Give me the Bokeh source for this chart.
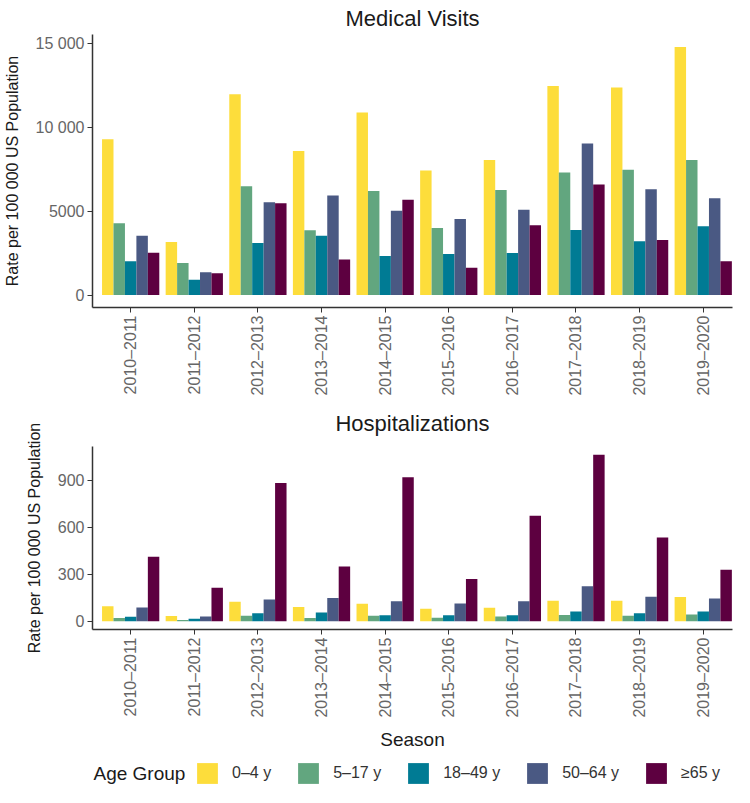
import numpy as np
from bokeh.plotting import figure
from bokeh.layouts import column
from bokeh.models import ColumnDataSource, FixedTicker, Range1d, Legend, LegendItem, Label
from bokeh.embed import file_html
from bokeh.resources import INLINE

# ---------------- data ----------------
seasons = ["2010–2011", "2011–2012", "2012–2013", "2013–2014", "2014–2015",
           "2015–2016", "2016–2017", "2017–2018", "2018–2019", "2019–2020"]
age_groups = ["0–4 y", "5–17 y", "18–49 y", "50–64 y", "≥65 y"]
colors = ["#FDDD3B", "#62A67F", "#007B94", "#4A5983", "#5D0040"]

visits_0_4 = [9300, 3170, 12000, 8600, 10900, 7440, 8060, 12480, 12400, 14820]
visits_5_17 = [4290, 1915, 6500, 3870, 6220, 4010, 6280, 7320, 7480, 8060]
visits_18_49 = [2020, 915, 3110, 3550, 2330, 2450, 2510, 3890, 3210, 4110]
visits_50_64 = [3550, 1360, 5545, 5940, 5030, 4550, 5090, 9050, 6320, 5790]
visits_65 = [2530, 1300, 5485, 2130, 5700, 1635, 4170, 6600, 3290, 2020]

hosp_0_4 = [95, 33, 125, 90, 112, 80, 86, 130, 130, 155]
hosp_5_17 = [20, 8, 35, 20, 35, 22, 30, 40, 35, 42]
hosp_18_49 = [28, 15, 50, 55, 38, 38, 38, 62, 50, 62]
hosp_50_64 = [88, 30, 138, 148, 127, 113, 128, 224, 157, 145]
hosp_65 = [412, 214, 883, 350, 920, 270, 675, 1064, 535, 329]

visits_ticks = [0, 5000, 10000, 15000]
visits_tick_labels = ["0", "5000", "10 000", "15 000"]
hosp_ticks = [0, 300, 600, 900]
hosp_tick_labels = ["0", "300", "600", "900"]

FONT = "Liberation Sans"
TICK_COLOR = "#666666"
DARK = "#1a1a1a"
AXIS_COLOR = "#333333"

dodge_offsets = [-0.36, -0.18, 0.0, 0.18, 0.36]
bar_width = 0.18
W = 734
LEFT = 92
RIGHT = 2


def make_panel(title, series, ticks, tick_labels, height, top_border, title_standoff, show_xlabel):
    allvals = np.concatenate([np.asarray(s, dtype=float) for s in series])
    ymax = allvals.max()
    p = figure(width=W, height=height, output_backend="svg", toolbar_location=None,
               x_range=Range1d(0.4, 10.46),
               y_range=Range1d(-0.05 * ymax, 1.05 * ymax),
               min_border_left=LEFT, min_border_right=RIGHT, min_border_top=top_border,
               min_border_bottom=0)
    p.title.text = title
    p.title.align = "center"
    p.title.text_font = FONT
    p.title.text_font_size = "22px"
    p.title.text_font_style = "normal"
    p.title.text_color = DARK
    p.title.standoff = title_standoff

    renderers = []
    base = np.arange(len(seasons)) + 1
    for k, vals in enumerate(series):
        src = ColumnDataSource(dict(x=base + dodge_offsets[k], top=vals))
        r = p.vbar(x="x", top="top", bottom=0, width=bar_width, source=src,
                   fill_color=colors[k], line_color=None)
        renderers.append(r)

    p.grid.visible = False
    p.outline_line_color = None

    for ax in (p.xaxis[0], p.yaxis[0]):
        ax.axis_line_color = AXIS_COLOR
        ax.axis_line_width = 1.5
        ax.major_tick_line_color = AXIS_COLOR
        ax.major_tick_line_width = 1
        ax.major_tick_out = 5
        ax.major_tick_in = 0
        ax.minor_tick_line_color = None
        ax.major_label_text_font = FONT
        ax.major_label_text_font_size = "16px"
        ax.major_label_text_color = TICK_COLOR
        ax.axis_label_text_font = FONT
        ax.axis_label_text_font_style = "normal"
        ax.axis_label_text_color = DARK
        ax.major_label_standoff = 3

    p.xaxis.ticker = FixedTicker(ticks=list(range(1, len(seasons) + 1)))
    p.xaxis.major_label_overrides = {i + 1: s for i, s in enumerate(seasons)}
    p.xaxis.major_label_orientation = np.pi / 2

    p.yaxis.ticker = FixedTicker(ticks=ticks)
    p.yaxis.major_label_overrides = {t: l for t, l in zip(ticks, tick_labels)}
    p.yaxis.axis_label = "Rate per 100 000 US Population"
    p.yaxis.axis_label_text_font_size = "16px"
    p.yaxis.axis_label_standoff = 12

    if show_xlabel:
        p.xaxis.axis_label = "Season"
        p.xaxis.axis_label_text_font_size = "19px"
        p.xaxis.axis_label_standoff = 8
    return p, renderers


p1, _ = make_panel("Medical Visits",
                   [visits_0_4, visits_5_17, visits_18_49, visits_50_64, visits_65],
                   visits_ticks, visits_tick_labels, 398, 34, 7, False)
p2, _ = make_panel("Hospitalizations",
                   [hosp_0_4, hosp_5_17, hosp_18_49, hosp_50_64, hosp_65],
                   hosp_ticks, hosp_tick_labels, 354, 48, 21, True)

# ---------------- legend strip ----------------
LH = 35
p3 = figure(width=W, height=LH, output_backend="svg", toolbar_location=None,
            x_range=Range1d(LEFT, W - RIGHT), y_range=Range1d(0, LH),
            x_axis_location=None, y_axis_location=None,
            min_border_left=LEFT, min_border_right=RIGHT, min_border_top=0, min_border_bottom=0)
p3.grid.visible = False
p3.outline_line_color = None
# legend-key renderers: one point each, placed outside the visible range
key_renderers = [p3.vbar(x=[-1000], top=[0], width=1, fill_color=c, line_color=None)
                 for c in colors]

legend = Legend(items=[LegendItem(label=g, renderers=[r]) for g, r in zip(age_groups, key_renderers)],
                orientation="horizontal", location=(194 - LEFT, 1))
legend.glyph_width = 26
legend.glyph_height = 26
legend.label_standoff = 12
legend.spacing = 24
legend.label_text_font = FONT
legend.label_text_font_size = "16px"
legend.label_text_color = "#333333"
legend.border_line_color = None
legend.background_fill_alpha = 0
legend.padding = 0
legend.margin = 0
p3.add_layout(legend)

p3.add_layout(Label(x=LEFT + 1, y=14, text="Age Group", text_font=FONT, text_font_size="19px",
                    text_color=DARK, text_align="left", text_baseline="middle"))

layout = column(p1, p2, p3, spacing=0)

with open("out.html", "w") as f:
    f.write(file_html(layout, INLINE))
